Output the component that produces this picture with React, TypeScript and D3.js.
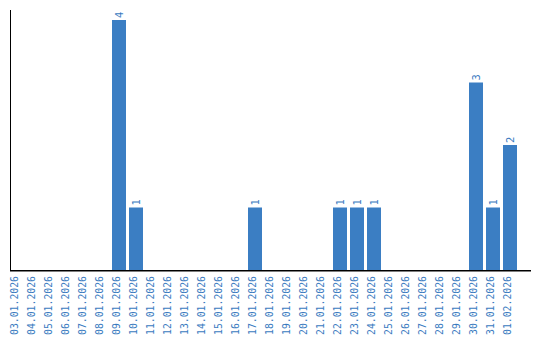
import React from "react";
import * as d3 from "d3";

const dates = [
  "03.01.2026", "04.01.2026", "05.01.2026", "06.01.2026", "07.01.2026",
  "08.01.2026", "09.01.2026", "10.01.2026", "11.01.2026", "12.01.2026",
  "13.01.2026", "14.01.2026", "15.01.2026", "16.01.2026", "17.01.2026",
  "18.01.2026", "19.01.2026", "20.01.2026", "21.01.2026", "22.01.2026",
  "23.01.2026", "24.01.2026", "25.01.2026", "26.01.2026", "27.01.2026",
  "28.01.2026", "29.01.2026", "30.01.2026", "31.01.2026", "01.02.2026",
];
const counts = [
  0, 0, 0, 0, 0, 0, 4, 1, 0, 0,
  0, 0, 0, 0, 1, 0, 0, 0, 0, 1,
  1, 1, 0, 0, 0, 0, 0, 3, 1, 2,
];

const W = 540;
const H = 340;
const BLUE = "#3b7ec3";
const TEXT = "#3a7bbf";

export default function App() {
  const x = d3
    .scaleBand<string>()
    .domain(dates)
    .range([10, 517])
    .paddingInner(3 / 17)
    .paddingOuter(0);
  const y = d3.scaleLinear().domain([0, 4]).range([270, 20]);
  const bw = x.bandwidth();

  return (
    <svg
      width={W}
      height={H}
      style={{ position: "absolute", left: 0, top: 0, display: "block" }}
    >
      <rect width={W} height={H} fill="#fff" />
      {dates.map((d, i) =>
        counts[i] > 0 ? (
          <rect
            key={"b" + d}
            x={x(d)}
            y={y(counts[i])}
            width={bw}
            height={y(0) - y(counts[i])}
            fill={BLUE}
          />
        ) : null
      )}
      {dates.map((d, i) =>
        counts[i] > 0 ? (
          <text
            key={"v" + d}
            transform={`translate(${(x(d) as number) + bw / 2},${y(counts[i]) - 2}) rotate(-90)`}
            dy="0.35em"
            textAnchor="start"
            fontFamily="DejaVu Sans Mono"
            fontSize={10.5}
            fill={TEXT}
          >
            {counts[i]}
          </text>
        ) : null
      )}
      <line x1={10.5} x2={10.5} y1={10} y2={271} stroke="#000" strokeWidth={1} />
      <line x1={10} x2={531} y1={270.75} y2={270.75} stroke="#000" strokeWidth={1.5} />
      {dates.map((d) => (
        <text
          key={"t" + d}
          transform={`translate(${(x(d) as number) + bw / 2 + 1},276) rotate(-90)`}
          textAnchor="end"
          fontFamily="DejaVu Sans Mono"
          fontSize={9.8}
          fill={TEXT}
        >
          {d}
        </text>
      ))}
    </svg>
  );
}
